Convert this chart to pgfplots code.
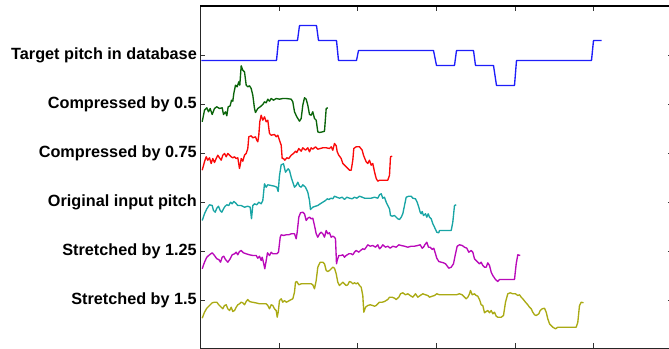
\documentclass[border=0pt]{standalone}
\usepackage{fontspec}
\setmainfont{Liberation Sans}
\usepackage{pgfplots}
\pgfplotsset{compat=1.18}
\definecolor{mblue}{RGB}{30,30,250}
\definecolor{mgreen}{RGB}{10,100,10}
\definecolor{mred}{RGB}{250,10,10}
\definecolor{mcyan}{RGB}{25,165,165}
\definecolor{mmag}{RGB}{185,10,185}
\definecolor{molive}{RGB}{170,170,20}
\begin{document}
\begin{tikzpicture}
\begin{axis}[
  scale only axis,
  width=472bp, height=342bp,
  xmin=201, xmax=673,
  ymin=6, ymax=348,
  y filter/.expression={354-y},
  clip=false,
  axis line style={black!85, line width=1.1bp},
  tick style={black!80, line width=0.7bp},
  tick align=inside,
  major tick length=5bp,
  xtick={279.6,358.2,436.8,515.4,594},
  xticklabels={},
  ytick={54,103,152,201,250,299},
  yticklabels={Stretched by 1.5,Stretched by 1.25,Original input pitch,Compressed by 0.75,Compressed by 0.5,Target pitch in database},
  yticklabel style={font=\fontsize{16.3}{19}\selectfont\bfseries, inner sep=0pt, xshift=-3.5bp},
  every axis plot/.append style={line width=1.35bp, line join=round},
  extra description/.code={
    \draw[black, line width=2bp] (rel axis cs:0,1) -- (rel axis cs:1,1);
  },
]
% Target pitch in database
\addplot[mblue] coordinates {
(202,60) (277,60) (279,40) (298,40) (300,25) (317,25) (319,40) (337,40) (339,60) (357,60) (359,50) (434,50) (437,65) (455,65) (457,50) (474,50) (476,65) (494,65) (497,85) (515,85) (517,60) (592,60) (594,40) (602,40)
};
% Compressed by 0.5
\addplot[mgreen] coordinates {
(202.7,121.3) (205,109.7) (207.3,107.3) (209,111.3) (210.7,108) (212.7,114) (215,108) (217.3,106.3) (220,108) (222.7,107.3) (224,114) (226,111.3) (227.3,115.3) (228.7,106.3) (230.7,105.3) (232,99.7) (233.3,100.7) (234.3,93) (236,84.7) (237.7,86.3) (239.3,81.3) (240.3,84.7) (241.7,65.3) (243.3,69.7) (245,71.3) (246.7,84.7) (248.3,86.3) (250,85.3) (251.7,88) (253.3,94.7) (255,108) (256,112) (258.3,108) (260.7,106.3) (263.3,104) (265,101.3) (266.7,102.3) (268.3,98.7) (270,100.7) (271.7,98) (274,99.7) (276.7,98) (280,98.7) (283.3,98) (286.7,98) (291.7,98.7) (293.3,101.3) (295,111.3) (297.3,116.3) (300,120.7) (301.7,118) (303.3,104.7) (305,97.3) (306.7,98.7) (308.3,104.7) (310,114) (311.7,114.7) (313.3,111.3) (315,118) (316.7,119.7) (318.3,131.3) (320,132) (323.3,131.3) (325,130.7) (326.7,108) (328.3,107.3)
};
% Compressed by 0.75
\addplot[mred] coordinates {
(202.7,169.7) (205,161.3) (206.7,156.3) (208.3,159.7) (210,157.3) (211.7,163) (213.3,158) (215,162) (216.7,158) (218.3,154.7) (220,157.3) (221.7,159.7) (223.3,154.7) (225,153) (226.7,156.3) (228.3,153) (230,154.7) (231.7,156.3) (233.3,157.3) (235,156.3) (236.7,158) (238.3,157.3) (240,168) (241,163) (241.7,158) (243.3,160.7) (245,154.7) (246.7,153) (248.3,148) (249.3,136.3) (251.7,135.3) (253.3,137.3) (256,136.3) (257.3,139.7) (258.3,141.3) (259.3,134.7) (260.3,121.3) (261.7,114.7) (263.3,119.7) (265,116.3) (266.7,121.3) (268.3,119.7) (270,133) (271.7,134.7) (275,134) (276.7,136.3) (278.3,134.7) (280,139.7) (281.7,144.7) (282.7,158) (284,158) (285.3,159.7) (287.3,157.3) (289.3,158) (291.7,154.7) (294,153) (296,150.7) (297.3,152) (299.3,148) (301.7,150.7) (303.3,147.3) (306,149.7) (308.3,147.3) (310,151.3) (311.7,147.3) (313.3,148.7) (316,146.3) (318.3,148.7) (320.7,148) (323.3,147.3) (326.7,147.3) (330,148) (331.7,146.3) (333.3,149.7) (335,143) (336.7,145.3) (337.7,151.3) (339.3,154.7) (341.7,158) (343.3,163) (345,164.7) (346.7,166.3) (348.3,168) (350,169.7) (351.7,169.7) (353.3,159.7) (354.3,148) (356.7,146.3) (360,146.3) (362.7,149.7) (364,154.7) (365.3,158) (366.7,161.3) (368.3,163) (370,159.7) (371.7,164.7) (373.3,163) (375,171.3) (376.7,178) (378.3,180.7) (380,179.7) (383.3,179.7) (388.3,179.7) (390,174.7) (391,156.3) (392.7,155.7)
};
% Original input pitch
\addplot[mcyan] coordinates {
(202.7,220) (205,213.3) (207.3,208.3) (210,204.3) (212.7,205) (214,210) (215.7,211.7) (217.3,207.7) (219,205.7) (220.7,210) (222.3,211.7) (224,208.3) (225.7,205.7) (227.3,204.3) (229.3,205) (231,201.7) (232.7,203.3) (234.3,201) (236,202.3) (238.3,205) (241.7,205) (245,206.7) (248.3,205.7) (250.7,206.7) (252,218.3) (253.3,205) (255,203.3) (257.3,204.3) (259.3,201.7) (261.7,203.3) (263.3,200) (265,183.3) (266.7,186.7) (268.3,184.3) (271.7,185) (275,185.7) (277.3,186.7) (278.7,191) (280,175) (281.7,164.3) (284,163.3) (286,171.7) (287.3,170) (288.7,168.3) (290,170) (291.7,176.7) (293.3,181.7) (295,186.7) (296.7,185) (298.3,181.7) (300,185.7) (301.7,186.7) (303.3,184.3) (306,186.7) (308.3,191.7) (310,200) (311,209) (313.3,206.7) (316,205.7) (318.3,205) (320.7,203.3) (323.3,201.7) (326,200) (327.7,198.3) (329.3,199) (331.7,197.7) (333.3,198.3) (335,195.7) (337.3,196.7) (340,197.7) (342.7,196.7) (345,199) (347.3,196.7) (350,197.7) (352.7,198.3) (355,196.7) (357.3,197.7) (360,195.7) (362.7,196.7) (365,197.7) (368.3,197.7) (371.7,197.7) (375,196.7) (378.3,197.7) (380,194.3) (381.7,193.3) (383.3,197.7) (385,196.7) (386.7,201.7) (388.3,205) (390,208.3) (391,215) (392.7,215.7) (395,215) (396.7,216.7) (398.3,218.3) (400,219) (401.7,216.7) (403.3,213.3) (405,205) (406.7,196.7) (409.3,195.7) (411.7,195.7) (413.3,197.7) (416,198.3) (417.7,201.7) (419.3,206.7) (420.7,211.7) (421.7,213.3) (422.7,211) (424,215) (426,213.3) (427.3,216.7) (428.7,213.3) (430,216.7) (431.7,218.3) (433.3,223.3) (435,226.7) (437.3,231.7) (439.3,232.3) (440,230) (445,230) (451.7,230) (453.3,221.7) (455,205) (456.7,204.3)
};
% Stretched by 1.25
\addplot[mmag] coordinates {
(202.7,268.3) (205,261.7) (207.3,256.7) (210,254.3) (212.7,252.3) (215,255) (217.3,258.3) (219.3,259) (221,261.7) (222.7,256.7) (224.3,255.7) (226,259) (228.3,261.7) (230.7,258.3) (232.7,254.3) (235,253.3) (236.7,251.7) (238.3,254.3) (240,251) (241.7,250) (244,252.3) (246.7,253.3) (250,254.3) (253.3,255) (256.7,255) (258.3,257.7) (260,255.7) (261.7,260) (262.7,256.7) (264.3,263.3) (265.3,268.3) (266.7,260) (268,252.3) (270,255) (271.7,251.7) (273.3,253.3) (275,253.3) (277.3,253.3) (279,251.7) (280.7,236.7) (281.7,234.3) (284,235) (286.7,234.3) (289.3,234.3) (291.7,233.3) (295,233.3) (296.7,238.3) (297.7,231.7) (299.3,216.7) (301,212.3) (303.3,211.7) (305,213.3) (306.7,220) (308.3,217.7) (310,216.7) (311.7,218.3) (313.3,217.7) (315,225) (316.7,233.3) (318.3,236.7) (320,233.3) (321.7,231.7) (323.3,233.3) (325,236.7) (326.7,230) (328.3,233.3) (330,232.3) (331.7,236.7) (333.3,235.7) (335,236.7) (336,238.3) (337,263.3) (337.7,260) (339.3,255) (341.7,255) (343.3,254.3) (345,256.7) (346.7,255) (349.3,253.3) (351.7,253.3) (353.3,254.3) (355,251.7) (356.7,250) (359.3,251.7) (361,250) (363.3,248.3) (365,249) (366.7,246.7) (368.3,244.3) (370.7,245.7) (373.3,245) (376,246.7) (378.3,244.3) (380,248.3) (381.7,246.7) (383.3,244.3) (386,246.7) (388.3,245.7) (390.7,247.7) (393.3,245.7) (396.7,246.7) (399.3,244.3) (401.7,245) (405,245.7) (408.3,246.7) (411.7,245.7) (415,245.7) (418.3,245) (420.7,244.3) (422.7,247.7) (424,246.7) (425.3,244.3) (427.3,241.7) (429,246.7) (430.7,246.7) (432.7,249) (434.3,247.7) (436,253.3) (437.3,257.7) (439.3,261) (441.7,261.7) (444,262.3) (446,263.3) (447.3,265) (449.3,267.7) (451.7,266.7) (454,263.3) (456,253.3) (457.7,245.7) (460,244.3) (462.7,245) (465,246.7) (467.3,247.7) (469.3,251.7) (471.7,250) (473.3,251.7) (475,258.3) (476.7,260) (478.3,261.7) (480,263.3) (481.7,261.7) (483.3,265) (485,266.7) (486.7,266.7) (488.3,262.3) (490,265) (491.7,271.7) (493.3,275) (496,279) (498.3,281) (500,279) (505,279) (510,279) (515,279) (516.7,263.3) (518.3,254.3) (520.7,255)
};
% Stretched by 1.5
\addplot[molive] coordinates {
(202.7,317.7) (205,311.7) (207.3,307.7) (210,305) (212.7,302.3) (215,301.7) (217.3,301.7) (219.3,304.3) (221.7,306.7) (223.3,308.3) (225,305) (226.7,304.3) (228.3,308.3) (230,310) (231.7,306.7) (233.3,311) (235,310) (236.7,306.7) (238.3,304.3) (240,303.3) (241.7,301.7) (243.3,302.3) (245,304.3) (246.7,301) (248.3,299) (250,301) (252.7,301.7) (256,302.3) (260,303.3) (263.3,303.3) (266.7,303.3) (268.3,305) (270,308.3) (271.7,304.3) (273.3,305) (275,308.3) (276.7,310) (277.7,316.7) (278.7,311.7) (280,300) (281.7,298.3) (283.3,301.7) (285,300) (286.7,301.7) (288.3,301) (290,300) (293.3,298.3) (295,291.7) (296,281.7) (297.3,281) (299.3,284.3) (301.7,283.3) (305,283.3) (308.3,283.3) (311.7,283.3) (313.3,284.3) (315,288.3) (316.7,280) (318.3,266.7) (320.7,261.7) (323.3,261.7) (325,263.3) (326.7,270) (328.3,271) (330,270) (331.7,268.3) (333.3,266.7) (335,267.7) (336.7,273.3) (338.3,281.7) (340,285) (341.7,283.3) (343.3,281.7) (345,283.3) (346.7,285) (348.3,284.3) (350,281) (351.7,281.7) (353.3,283.3) (355,282.3) (356.7,283.3) (358.3,282.3) (360,285) (361.7,286.7) (363.3,295) (364.3,311.7) (366,306.7) (368.3,305) (370.7,304.3) (373.3,305) (375,305.7) (376.7,305) (378.3,303.3) (380,301.7) (382.7,301.7) (385,301) (388.3,299) (390,296.7) (392.7,296.7) (395,297.7) (396.7,299) (399.3,296.7) (401,293.3) (403.3,292.3) (406,294.3) (408.3,293.3) (410.7,295) (413.3,296.7) (416,293.3) (418.3,296.7) (420.7,295) (423.3,293.3) (426,294.3) (428.3,295) (430,296.7) (432.7,295.7) (435,295) (437.3,293.3) (440,294.3) (443.3,294.3) (446.7,294.3) (450,294.3) (453.3,294.3) (456.7,294.3) (460,293.3) (462.7,294.3) (465,296.7) (466.7,298.3) (468.3,296.7) (470,293.3) (471,290) (472.7,294.3) (475,293.3) (476.7,295) (478.3,295.7) (480,299) (481.7,304.3) (483.3,305) (485,312.3) (486.7,311) (488.3,310) (490,312.3) (491.7,310) (493.3,313.3) (495,311.7) (496.7,315.7) (498.3,316.7) (501.7,316.7) (504,315) (506,301.7) (508.3,293.3) (510.7,292.3) (513.3,293.3) (516,293.3) (518.3,295) (520,294.3) (521.7,296.7) (523.3,298.3) (526,301.7) (528.3,304.3) (530,306.7) (531.7,308.3) (533.3,311.7) (535,314.3) (536.7,315) (539.3,313.3) (540.7,310) (542.7,308.3) (545,307.7) (546.7,311.7) (548.3,318.3) (550,323.3) (551.7,325) (553.3,326.7) (556,328.3) (558.3,326.7) (563.3,326.7) (570,326.7) (576.7,326.7) (578.3,321.7) (580,305) (581.7,301.7) (584,302.3)
};
\end{axis}
\pgfresetboundingbox
\useasboundingbox ([xshift=-200.5bp,yshift=-0.5bp]current axis.south west) rectangle ([xshift=-3.5bp,yshift=6.5bp]current axis.north east);
\end{tikzpicture}
\end{document}
